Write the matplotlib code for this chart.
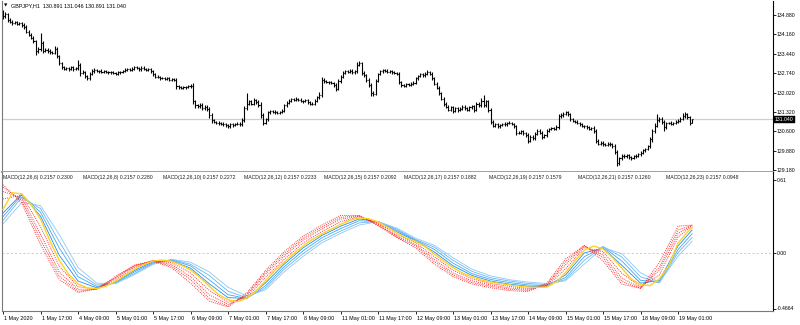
import matplotlib
matplotlib.use("Agg")
import matplotlib.pyplot as plt
import matplotlib.transforms as mtransforms
import numpy as np

# ---------------- data ----------------
title_text = "GBPJPY,H1  130.891 131.046 130.891 131.040"
first_open = 134.95
close = [
    134.82, 134.90, 134.70, 134.62, 134.58, 134.60, 134.55, 134.57, 134.50, 134.42,
    134.25, 134.15, 134.02, 133.90, 133.55, 133.62, 133.85, 133.55, 133.60, 133.55,
    133.50, 133.48, 133.62, 133.35, 133.10, 132.95, 132.90, 132.92, 132.88, 132.95,
    132.88, 132.92, 133.05, 132.75, 132.78, 132.62, 132.55, 132.72, 132.80, 132.85,
    132.80, 132.82, 132.78, 132.80, 132.77, 132.76, 132.78, 132.74, 132.72, 132.76,
    132.78, 132.82, 132.85, 132.88, 132.86, 132.90, 132.95, 132.92, 132.88, 132.94,
    132.90, 132.86, 132.88, 132.80, 132.70, 132.60, 132.58, 132.55, 132.56, 132.52,
    132.55, 132.50, 132.52, 132.48, 132.25, 132.22, 132.20, 132.22, 132.24, 132.25,
    132.28, 131.70, 131.55, 131.52, 131.58, 131.45, 131.50, 131.42, 131.20, 131.00,
    130.95, 130.92, 130.90, 130.88, 130.85, 130.82, 130.78, 130.85, 130.83, 130.86,
    130.88, 130.85, 131.00, 131.45, 131.60, 131.70, 131.62, 131.75, 131.68, 131.58,
    131.20, 130.90, 131.05, 131.30, 131.35, 131.30, 131.32, 131.28, 131.30, 131.35,
    131.55, 131.65, 131.72, 131.78, 131.75, 131.80, 131.76, 131.72, 131.70, 131.74,
    131.66, 131.62, 131.60, 131.72, 131.85, 131.95, 132.50, 132.45, 132.42, 132.40,
    132.38, 132.30, 132.15, 132.45, 132.60, 132.75, 132.80, 132.78, 132.82, 132.76,
    132.80, 133.05, 133.10, 132.75, 132.65, 132.50, 132.30, 132.00, 131.98, 132.45,
    132.70, 132.80, 132.85, 132.82, 132.78, 132.80, 132.76, 132.74, 132.72, 132.40,
    132.30, 132.28, 132.32, 132.30, 132.35, 132.38, 132.55, 132.62, 132.70, 132.65,
    132.72, 132.78, 132.70, 132.55, 132.35, 132.20, 132.00, 131.80, 131.60, 131.50,
    131.40, 131.48, 131.35, 131.45, 131.38, 131.42, 131.50, 131.45, 131.40, 131.48,
    131.52, 131.38, 131.60, 131.55, 131.72, 131.55, 131.70, 131.40, 130.95, 130.80,
    130.85, 130.78, 130.82, 130.88, 130.85, 130.90, 130.92, 130.86, 130.78, 130.55,
    130.55, 130.60, 130.52, 130.48, 130.25, 130.40, 130.35, 130.50, 130.62, 130.55,
    130.40, 130.45, 130.62, 130.68, 130.72, 130.70, 130.76, 131.15, 131.20, 131.25,
    131.30, 131.22, 131.05, 130.98, 130.95, 130.90, 130.85, 130.80, 130.78, 130.75,
    130.70, 130.72, 130.60, 130.25, 130.15, 130.18, 130.12, 130.10, 130.15, 130.12,
    130.05, 129.85, 129.45, 129.62, 129.70, 129.68, 129.72, 129.65, 129.62, 129.68,
    129.70, 129.75, 129.82, 129.90, 129.95, 130.05, 130.30, 130.60, 130.80, 131.00,
    131.05, 130.95, 130.75, 130.90, 130.92, 130.88, 130.90, 130.95, 130.98, 131.05,
    131.15, 131.22, 131.12, 130.891, 131.040,
]
wick_up_pips = [
    10, 8, 6, 5, 6, 5, 4, 6, 5, 6, 8, 6, 5, 6, 5, 8, 35, 6, 5, 6,
    6, 5, 10, 6, 5, 6, 5, 4, 5, 6, 5, 4, 17, 5, 6, 5, 6, 5, 8, 6,
    5, 4, 5, 4, 5, 4, 5, 4, 5, 4, 5, 4, 6, 5, 4, 6, 5, 4, 5, 6,
    5, 4, 5, 6, 5, 4, 5, 4, 5, 4, 6, 5, 4, 5, 6, 5, 4, 5, 4, 5,
    6, 8, 6, 5, 6, 5, 6, 5, 8, 6, 5, 4, 5, 4, 5, 4, 5, 6, 5, 4,
    5, 6, 10, 8, 40, 6, 5, 6, 5, 6, 8, 6, 5, 6, 5, 4, 5, 4, 5, 6,
    6, 5, 6, 5, 4, 5, 4, 5, 4, 5, 5, 4, 5, 6, 5, 8, 10, 6, 5, 4,
    5, 4, 6, 8, 6, 5, 4, 5, 6, 5, 6, 10, 8, 6, 5, 6, 5, 6, 8, 6,
    5, 4, 5, 4, 5, 4, 5, 4, 5, 6, 5, 4, 5, 4, 5, 6, 5, 6, 5, 4,
    5, 6, 5, 6, 5, 6, 5, 6, 5, 6, 5, 6, 5, 6, 5, 6, 5, 6, 5, 6,
    6, 5, 8, 6, 10, 21, 6, 5, 6, 5, 5, 4, 5, 4, 5, 4, 5, 4, 5, 6,
    5, 6, 5, 6, 5, 8, 6, 8, 6, 5, 6, 5, 6, 5, 4, 5, 6, 10, 8, 6,
    6, 5, 6, 5, 4, 5, 4, 5, 4, 5, 6, 5, 6, 8, 6, 5, 6, 5, 4, 5,
    6, 8, 6, 5, 6, 5, 4, 5, 4, 5, 5, 6, 5, 6, 5, 6, 8, 8, 10, 25,
    8, 6, 8, 5, 4, 5, 4, 5, 6, 6, 12, 8, 6, 6, 0.6,
]
wick_dn_pips = [
    8, 6, 10, 5, 6, 5, 6, 5, 6, 6, 6, 6, 5, 6, 15, 6, 6, 8, 5, 6,
    6, 5, 5, 6, 8, 6, 5, 4, 5, 4, 5, 4, 6, 13, 5, 6, 7, 5, 4, 5,
    4, 5, 4, 5, 4, 5, 4, 5, 4, 5, 4, 5, 4, 5, 4, 5, 4, 5, 6, 5,
    4, 5, 4, 5, 6, 5, 4, 5, 4, 5, 4, 5, 4, 5, 8, 6, 5, 4, 5, 4,
    5, 10, 8, 6, 5, 6, 5, 6, 10, 8, 6, 5, 6, 5, 6, 5, 7, 5, 6, 5,
    4, 5, 6, 5, 6, 5, 6, 5, 6, 8, 10, 7, 5, 6, 5, 4, 5, 4, 5, 4,
    5, 4, 5, 4, 5, 4, 5, 4, 5, 4, 5, 6, 5, 4, 5, 5, 8, 6, 5, 6,
    5, 6, 7, 5, 6, 5, 4, 5, 4, 5, 4, 5, 6, 8, 6, 8, 6, 10, 8, 6,
    5, 4, 5, 4, 5, 4, 5, 4, 5, 8, 6, 5, 4, 5, 4, 5, 4, 5, 4, 5,
    4, 5, 4, 6, 6, 6, 6, 6, 8, 6, 6, 5, 6, 5, 6, 5, 4, 5, 6, 5,
    5, 8, 5, 6, 5, 6, 5, 8, 10, 6, 5, 6, 5, 4, 5, 4, 5, 4, 6, 8,
    6, 5, 6, 8, 8, 6, 8, 6, 5, 6, 8, 6, 5, 4, 5, 4, 5, 6, 5, 6,
    5, 6, 6, 5, 6, 5, 4, 5, 6, 5, 6, 5, 8, 8, 6, 5, 6, 5, 4, 5,
    6, 10, 12, 8, 6, 5, 6, 5, 6, 5, 5, 4, 5, 4, 5, 4, 6, 8, 8, 6,
    6, 8, 15, 6, 5, 4, 5, 4, 5, 4, 5, 6, 6, 6, 0,
]
last_price = 131.040
price_ticks = [134.880, 134.160, 133.440, 132.740, 132.020, 131.320, 130.600, 129.880, 129.180]

time_labels = ["1 May 2020", "1 May 17:00", "4 May 09:00", "5 May 01:00", "5 May 17:00",
               "6 May 09:00", "7 May 01:00", "7 May 17:00", "8 May 09:00", "11 May 01:00",
               "11 May 17:00", "12 May 09:00", "13 May 01:00", "13 May 17:00", "14 May 09:00",
               "15 May 01:00", "15 May 17:00", "18 May 09:00", "19 May 01:00"]
bars_per_label = 16

# MACD signal lines, read at bar indices
bars_fine = list(range(0, 293, 4)) + [294]
sig15 = [0.36, 0.50, 0.489, 0.40, 0.28, 0.10, -0.065, -0.18, -0.26, -0.295,
         -0.30, -0.28, -0.24, -0.19, -0.14, -0.10, -0.07, -0.062, -0.073, -0.105,
         -0.145, -0.206, -0.28, -0.35, -0.393, -0.41, -0.38, -0.32, -0.235, -0.15,
         -0.08, -0.01, 0.055, 0.11, 0.155, 0.195, 0.235, 0.27, 0.29, 0.283,
         0.255, 0.212, 0.165, 0.12, 0.095, 0.05, -0.01, -0.07, -0.125, -0.17,
         -0.20, -0.228, -0.245, -0.258, -0.27, -0.28, -0.288, -0.29, -0.287, -0.245,
         -0.165, -0.07, 0.02, 0.055, 0.03, -0.04, -0.13, -0.22, -0.268, -0.275,
         -0.22, -0.11, 0.08, 0.17, 0.209]

bars_coarse = list(range(0, 289, 8)) + [294]
sig6 = [0.566, 0.414, 0.067, -0.224, -0.333, -0.302, -0.199, -0.104, -0.072, -0.126,
        -0.255, -0.405, -0.454, -0.336, -0.149, 0.009, 0.137, 0.23, 0.31, 0.31,
        0.224, 0.126, 0.039, -0.095, -0.20, -0.261, -0.293, -0.317, -0.325, -0.255,
        -0.053, 0.059, -0.07, -0.263, -0.297, -0.084, 0.22, 0.23]
sig8 = [0.545, 0.436, 0.109, -0.196, -0.322, -0.305, -0.207, -0.109, -0.068, -0.114,
        -0.225, -0.382, -0.447, -0.349, -0.164, -0.011, 0.12, 0.213, 0.294, 0.308,
        0.231, 0.131, 0.055, -0.076, -0.185, -0.249, -0.281, -0.305, -0.316, -0.267,
        -0.076, 0.06, -0.044, -0.24, -0.30, -0.12, 0.19, 0.228]
sig10 = [0.509, 0.456, 0.154, -0.162, -0.306, -0.304, -0.212, -0.114, -0.066, -0.10,
         -0.20, -0.353, -0.432, -0.36, -0.18, -0.03, 0.104, 0.196, 0.279, 0.304,
         0.237, 0.138, 0.067, -0.058, -0.17, -0.235, -0.27, -0.295, -0.307, -0.273,
         -0.10, 0.053, -0.021, -0.212, -0.294, -0.148, 0.16, 0.2272]
sig12 = [0.448, 0.478, 0.216, -0.113, -0.285, -0.304, -0.227, -0.125, -0.067, -0.084,
         -0.17, -0.316, -0.414, -0.376, -0.206, -0.056, 0.08, 0.175, 0.258, 0.299,
         0.247, 0.15, 0.082, -0.034, -0.148, -0.217, -0.258, -0.282, -0.299, -0.282,
         -0.135, 0.041, 0.008, -0.173, -0.284, -0.187, 0.13, 0.2233]
sig17 = [0.33, 0.49, 0.304, -0.022, -0.237, -0.294, -0.245, -0.15, -0.076, -0.068,
         -0.13, -0.26, -0.376, -0.382, -0.253, -0.096, 0.039, 0.142, 0.22, 0.281,
         0.258, 0.174, 0.098, 0.005, -0.11, -0.19, -0.237, -0.263, -0.281, -0.283,
         -0.186, -0.003, 0.039, -0.106, -0.255, -0.233, 0.056, 0.1882]
sig19 = [0.30, 0.48, 0.337, 0.038, -0.201, -0.284, -0.252, -0.162, -0.085, -0.062,
         -0.11, -0.227, -0.351, -0.383, -0.276, -0.118, 0.015, 0.123, 0.20, 0.266,
         0.259, 0.186, 0.104, 0.027, -0.088, -0.175, -0.224, -0.25, -0.27, -0.276,
         -0.208, -0.034, 0.048, -0.07, -0.231, -0.247, 0.026, 0.1579]
sig21 = [0.27, 0.46, 0.368, 0.092, -0.166, -0.271, -0.258, -0.175, -0.092, -0.057,
         -0.097, -0.19, -0.322, -0.377, -0.294, -0.138, -0.009, 0.101, 0.179, 0.248,
         0.26, 0.195, 0.11, 0.046, -0.064, -0.156, -0.21, -0.237, -0.258, -0.267,
         -0.225, -0.064, 0.051, -0.037, -0.202, -0.253, 0.0, 0.126]
sig23 = [0.24, 0.418, 0.392, 0.15, -0.124, -0.255, -0.258, -0.184, -0.099, -0.056,
         -0.08, -0.161, -0.289, -0.361, -0.312, -0.16, -0.032, 0.081, 0.16, 0.23,
         0.258, 0.205, 0.12, 0.061, -0.043, -0.138, -0.194, -0.226, -0.246, -0.258,
         -0.235, -0.096, 0.043, -0.009, -0.169, -0.247, -0.03, 0.0948]

signal_periods = [6, 8, 10, 12, 15, 17, 19, 21, 23]
macd_main_last = 0.2157
signal_last = [0.2300, 0.2280, 0.2272, 0.2233, 0.2092, 0.1882, 0.1579, 0.1260, 0.0948]
macd_max_label = 0.61
macd_min_label = -0.4664

# ---------------- layout ----------------
W, H = 800, 325
FONT = ["Liberation Sans", "DejaVu Sans"]
plt.rcParams["font.family"] = FONT
fig = plt.figure(figsize=(W / 100, H / 100), dpi=100)
fig.patch.set_facecolor("white")

def px_rect(x0, y0, x1, y1):
    return [x0 / W, (H - y1) / H, (x1 - x0) / W, (y1 - y0) / H]

ax1 = fig.add_axes(px_rect(2, 1, 773, 172))
ax2 = fig.add_axes(px_rect(2, 172, 773, 311))

px_per_bar = 2.344
xmin = -1.0 / px_per_bar
xmax = xmin + 771 / px_per_bar
for ax in (ax1, ax2):
    ax.set_xlim(xmin, xmax)
    ax.set_facecolor("white")
    ax.yaxis.tick_right()
    ax.tick_params(axis="y", direction="out", length=2.0, width=0.6, pad=0.8,
                   labelsize=3.7, colors="black")
    for s in ("left", "bottom", "top"):
        ax.spines[s].set_color("#7a7a7a")
        ax.spines[s].set_linewidth(0.8)
    ax.spines["right"].set_color("black")
    ax.spines["right"].set_linewidth(0.8)

# price scale: 134.88 at y=14.7 px, 129.18 at y=170 px
p_per_px = (134.88 - 129.18) / (170.0 - 14.7)
ax1.set_ylim(134.88 - (172 - 14.7) * p_per_px, 134.88 + (14.7 - 1) * p_per_px)
ax1.set_xticks([])
ax1.spines["top"].set_visible(False)
ax1.spines["bottom"].set_color("#a0a0a0")
ax1.spines["bottom"].set_linewidth(1.4)
ax1.set_yticks(price_ticks)
ax1.set_yticklabels([f"{v:.3f}" for v in price_ticks])

# OHLC bars
c = np.array(close, dtype=float)
n = len(c)
o = np.r_[first_open, c[:-1]]
hi = np.maximum(o, c) + np.array(wick_up_pips[:n], dtype=float) / 100.0
lo = np.minimum(o, c) - np.array(wick_dn_pips[:n], dtype=float) / 100.0
idx = np.arange(n)
ax1.vlines(idx, lo, hi, color="black", linewidth=0.8)
ax1.hlines(o, idx - 0.45, idx, color="black", linewidth=0.8)
ax1.hlines(c, idx, idx + 0.45, color="black", linewidth=0.8)

ax1.axhline(last_price, color="#cfcfcf", linewidth=0.9, zorder=0)
ax1.annotate(f"{last_price:.3f}", xy=(1.0, last_price), xycoords=("axes fraction", "data"),
             xytext=(1.3, 0), textcoords="offset points", ha="left", va="center",
             fontsize=3.7, color="white",
             bbox=dict(boxstyle="square,pad=0.25", fc="black", ec="black", lw=0.3),
             annotation_clip=False)

fig.text(3.5 / W, 1 - 5.5 / H, "\u25BC", fontsize=3.2, ha="left", va="center",
         family=["DejaVu Sans"], color="black")
fig.text(11 / W, 1 - 5.5 / H, title_text, fontsize=3.9, ha="left", va="center", color="black")

# MACD panel scale: 0.61 at y=179.5, -0.4664 at y=308.5
v_per_px = (macd_max_label - macd_min_label) / (308.5 - 179.5)
ax2.set_ylim(macd_min_label - (311 - 308.5) * v_per_px, macd_max_label + (179.5 - 172) * v_per_px)
ax2.spines["top"].set_visible(False)
ax2.set_yticks([macd_max_label, 0.0, macd_min_label])
ax2.set_yticklabels([f"{macd_max_label:.2f}", "0.00", f"{macd_min_label:.4f}"])
ax2.axhline(0.0, color="#c4c4c4", linewidth=0.6, linestyle=(0, (2.5, 2.5)), zorder=0)

dotted = (0, (1.0, 1.3))
blue_cols = ["#1e8ff0", "#45a5f2", "#68b6f4", "#8cc8f6"]
for ys, col in zip([sig17, sig19, sig21, sig23], blue_cols):
    ax2.plot(bars_coarse, ys, color=col, linewidth=0.6, zorder=2)
for ys in [sig6, sig8, sig10, sig12]:
    ax2.plot(bars_coarse, ys, color="#ff1e1e", linewidth=0.65, linestyle=dotted, zorder=3)
ax2.plot(bars_fine, sig15, color="#ffd21f", linewidth=1.0, zorder=4)

ticks = [k * bars_per_label for k in range(len(time_labels))]
ax2.set_xticks(ticks)
ax2.set_xticklabels(time_labels, ha="left")
ax2.tick_params(axis="x", direction="out", length=2.2, width=0.6, pad=1.2,
                labelsize=3.9, colors="black")
offset = mtransforms.ScaledTranslation(1.2 / 100, 0, fig.dpi_scale_trans)
for lab in ax2.get_xticklabels():
    lab.set_transform(lab.get_transform() + offset)

label_x = [2, 82, 162, 243, 323, 403, 488, 577, 665]
for lx, p, sv in zip(label_x, signal_periods, signal_last):
    fig.text((lx + 1) / W, 1 - 177 / H, f"MACD(12,26,{p}) {macd_main_last:.4f} {sv:.4f}",
             fontsize=3.7, ha="left", va="center", color="#202020")

fig.savefig("out.png", dpi=100, facecolor="white")
